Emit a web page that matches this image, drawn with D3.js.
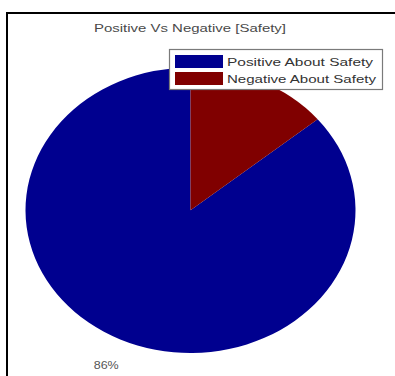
<!DOCTYPE html>
<html>
<head>
<meta charset="utf-8">
<script src="https://cdn.jsdelivr.net/npm/d3@7"></script>
<style>
  html, body { margin: 0; padding: 0; background: #fff; }
  svg { display: block; font-family: "Liberation Sans", Arial, sans-serif; }
</style>
</head>
<body>
<svg id="chart" width="395" height="376"></svg>
<script>
// Survey split about safety
const categories = ["Positive About Safety", "Negative About Safety"];
const values = [86, 14];
// Only the positive share is labelled; the negative one sits under the legend
const labels = ["86%", null];
const colors = ["#00008f", "#800000"];
const title = "Positive Vs Negative [Safety]";

const svg = d3.select("#chart");

// Frame lines (left and top)
svg.append("path")
  .attr("d", "M7,376 V13 H395")
  .attr("fill", "none")
  .attr("stroke", "#000")
  .attr("stroke-width", 2);

// Title
svg.append("text")
  .attr("x", 190).attr("y", 32)
  .attr("text-anchor", "middle")
  .attr("font-size", 11.5)
  .attr("fill", "#4a4a4a")
  .attr("textLength", 192)
  .attr("lengthAdjust", "spacingAndGlyphs")
  .text(title);

// Unit-circle scales mapped onto the (non-equal aspect) plot area
const x = d3.scaleLinear().domain([-1, 1]).range([25.5, 355.5]);
const y = d3.scaleLinear().domain([-1, 1]).range([353, 67.5]);
const R = 100;

// Slices run counter-clockwise from 12 o'clock, first category first
const pie = d3.pie().sort(null).value(d => d).startAngle(0).endAngle(-2 * Math.PI);
const arcs = pie(values);
const arc = d3.arc().innerRadius(0).outerRadius(R);

const g = svg.append("g")
  .attr("transform",
    `translate(${x(0)},${y(0)}) scale(${(x(1) - x(0)) / R},${(y(-1) - y(0)) / R})`);

g.selectAll("path.slice")
  .data(arcs)
  .join("path")
  .attr("class", "slice")
  .attr("d", arc)
  .attr("fill", (d, i) => colors[i]);

// Percentage labels at 1.2 x radius along each slice's mid angle
svg.selectAll("text.pct")
  .data(arcs.map((d, i) => ({ ...d, label: labels[i] })).filter(d => d.label))
  .join("text")
  .attr("class", "pct")
  .attr("x", d => x(1.2 * Math.sin((d.startAngle + d.endAngle) / 2)))
  .attr("y", d => y(1.2 * Math.cos((d.startAngle + d.endAngle) / 2)))
  .attr("dy", "0.35em")
  .attr("text-anchor", "middle")
  .attr("font-size", 10.5)
  .attr("fill", "#555")
  .attr("textLength", 25)
  .attr("lengthAdjust", "spacingAndGlyphs")
  .text(d => d.label);

// Legend
const legend = svg.append("g");
legend.append("rect")
  .attr("x", 169.5).attr("y", 49.5)
  .attr("width", 213).attr("height", 40)
  .attr("fill", "#fff")
  .attr("stroke", "#7a7a7a")
  .attr("stroke-width", 1.2);

const rows = legend.selectAll("g.row")
  .data(categories)
  .join("g")
  .attr("class", "row")
  .attr("transform", (d, i) => `translate(0,${i * 17})`);

rows.append("rect")
  .attr("x", 175).attr("y", 55)
  .attr("width", 48).attr("height", 13)
  .attr("fill", (d, i) => colors[i]);

rows.append("text")
  .attr("x", 227).attr("y", 65.5)
  .attr("font-size", 11)
  .attr("fill", "#333")
  .attr("textLength", (d, i) => i === 0 ? 146 : 149)
  .attr("lengthAdjust", "spacingAndGlyphs")
  .text(d => d);
</script>
</body>
</html>
